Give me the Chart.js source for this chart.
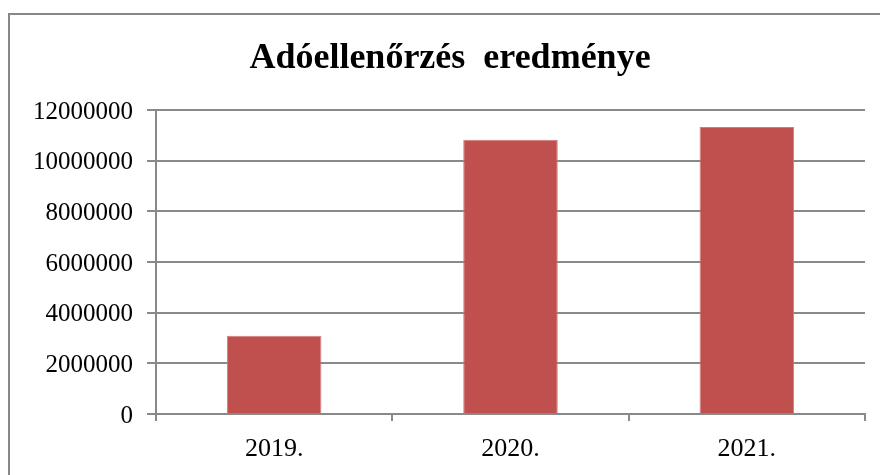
<!DOCTYPE html>
<html>
<head>
<meta charset="utf-8">
<script src="https://cdn.jsdelivr.net/npm/chart.js@4"></script>
<style>
  html, body { margin: 0; padding: 0; background: #fff; }
  #wrap { position: relative; width: 880px; height: 475px; overflow: hidden; }
  #frame {
    position: absolute; left: 8px; top: 13px; width: 1000px; height: 1000px;
    border-left: 2px solid #878787; border-top: 2px solid #878787;
  }
  #chart { position: absolute; left: 0; top: 0; }
</style>
</head>
<body>
<div id="wrap">
  <div id="frame"></div>
  <canvas id="chart" width="880" height="475"></canvas>
</div>
<script>
const title = 'Adóellenőrzés  eredménye';
const years = ['2019.', '2020.', '2021.'];
const results = [3090000, 10830000, 11340000];
const yTicks = [0, 2000000, 4000000, 6000000, 8000000, 10000000, 12000000];

const gridColor = '#898989';
const serif = '"Liberation Serif", "Times New Roman", serif';

new Chart(document.getElementById('chart'), {
  type: 'bar',
  data: {
    labels: years,
    datasets: [{
      data: results,
      backgroundColor: '#C0504D',
      borderColor: '#D27C79',
      borderWidth: 1,
      borderSkipped: 'bottom',
      barPercentage: 0.4,
      categoryPercentage: 1
    }]
  },
  options: {
    responsive: false,
    animation: false,
    layout: { padding: { left: 35, right: 15, top: 0, bottom: 0 } },
    plugins: {
      legend: { display: false },
      tooltip: { enabled: false },
      title: {
        display: true,
        text: title,
        color: '#000',
        font: { family: serif, size: 36, weight: 'bold', lineHeight: 1.2 },
        padding: { top: 37, bottom: 30 }
      }
    },
    scales: {
      x: {
        grid: {
          offset: true,
          drawOnChartArea: false,
          drawTicks: true,
          tickLength: 7,
          color: gridColor,
          lineWidth: 2
        },
        border: { color: gridColor, width: 2 },
        ticks: {
          color: '#000',
          padding: 13,
          font: { family: serif, size: 26 }
        },
        afterFit: (scale) => { scale.height = 61; }
      },
      y: {
        min: 0,
        max: 12000000,
        afterBuildTicks: (scale) => { scale.ticks = yTicks.map(v => ({ value: v })); },
        grid: {
          color: gridColor,
          lineWidth: 2,
          tickLength: 9
        },
        border: { color: gridColor, width: 2 },
        ticks: {
          color: '#000',
          padding: 14,
          labelOffset: 2,
          font: { family: serif, size: 25 },
          callback: (v) => String(v)
        },
        afterFit: (scale) => { scale.width = 121; }
      }
    }
  }
});
</script>
</body>
</html>
